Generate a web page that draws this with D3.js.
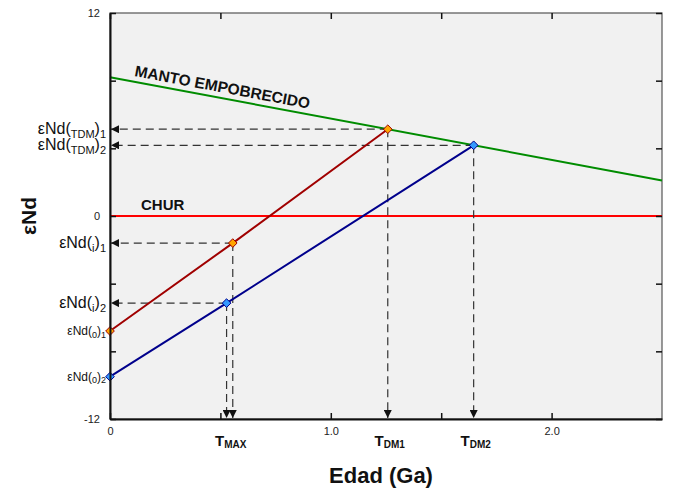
<!DOCTYPE html>
<html>
<head>
<meta charset="utf-8">
<script src="https://cdn.jsdelivr.net/npm/d3@7/dist/d3.min.js"></script>
<style>
  body { margin: 0; background: #fff; }
  svg { display: block; font-family: Arial, "Liberation Sans", sans-serif; }
</style>
</head>
<body>
<svg id="chart" width="673" height="491"></svg>
<script>
// Nd isotope evolution: depleted mantle, CHUR and two crustal samples
const yTicks = [-12, -8, -4, 0, 4, 8, 12];
const yTickLabels = ["-12", "", "", "0", "", "", "12"];
const xTicks = [0, 0.5, 1.0, 1.5, 2.0];
const xTickLabels = ["0", "", "1.0", "", "2.0"];

// depleted mantle (age Ga, εNd)
const mantleAge = [0, 2.5];
const mantleEps = [8.2, 2.1];
// CHUR reference
const churAge = [0, 2.5];
const churEps = [0, 0];
// sample 1: present day, crystallisation, model age
const s1Age = [0, 0.556, 1.258];
const s1Eps = [-6.8, -1.6, 5.13];
// sample 2
const s2Age = [0, 0.528, 1.647];
const s2Eps = [-9.5, -5.15, 4.18];

const svg = d3.select("#chart");
const m = { left: 110, right: 662, top: 13, bottom: 419 };
const x = d3.scaleLinear().domain([0, 2.5]).range([m.left, m.right]);
const y = d3.scaleLinear().domain([-12, 12]).range([m.bottom, m.top]);

const defs = svg.append("defs");
defs.append("marker").attr("id", "arrow")
  .attr("viewBox", "0 0 10 10").attr("refX", 10).attr("refY", 5)
  .attr("markerWidth", 9).attr("markerHeight", 8)
  .attr("markerUnits", "userSpaceOnUse")
  .attr("orient", "auto")
  .append("path").attr("d", "M0,0 L10,5 L0,10 z").attr("fill", "#111");

// plot background
svg.append("rect").attr("x", m.left).attr("y", m.top)
  .attr("width", m.right - m.left).attr("height", m.bottom - m.top)
  .attr("fill", "#f1f1f1").attr("stroke", "#555").attr("stroke-width", 1.2);

const zip = (a, b) => a.map((v, i) => [v, b[i]]);
const line = d3.line().x(d => x(d[0])).y(d => y(d[1]));

// reference curves
svg.append("path").datum(zip(churAge, churEps)).attr("d", line)
  .attr("fill", "none").attr("stroke", "#ff0000").attr("stroke-width", 2);
svg.append("path").datum(zip(mantleAge, mantleEps)).attr("d", line)
  .attr("fill", "none").attr("stroke", "#008c00").attr("stroke-width", 2);

// dashed guide arrows from each point to the axes
const guides = svg.append("g").attr("stroke", "#333").attr("stroke-width", 1.2)
  .attr("stroke-dasharray", "8,5").attr("fill", "none");
[[s1Age, s1Eps], [s2Age, s2Eps]].forEach(([ages, eps]) => {
  for (let i = 1; i < ages.length; i++) {
    guides.append("line")
      .attr("x1", x(ages[i])).attr("y1", y(eps[i]))
      .attr("x2", x(0) + 1).attr("y2", y(eps[i]))
      .attr("marker-end", "url(#arrow)");
    guides.append("line")
      .attr("x1", x(ages[i])).attr("y1", y(eps[i]))
      .attr("x2", x(ages[i])).attr("y2", y(-12) - 1)
      .attr("marker-end", "url(#arrow)");
  }
});

// sample evolution lines
svg.append("path").datum(zip(s1Age, s1Eps)).attr("d", line)
  .attr("fill", "none").attr("stroke", "#a00000").attr("stroke-width", 2);
svg.append("path").datum(zip(s2Age, s2Eps)).attr("d", line)
  .attr("fill", "none").attr("stroke", "#00008c").attr("stroke-width", 2);

const diamond = d3.symbol().type(d3.symbolDiamond2).size(48);
zip(s1Age, s1Eps).forEach(d => svg.append("path").attr("d", diamond)
  .attr("transform", `translate(${x(d[0])},${y(d[1])})`)
  .attr("fill", "#ffa500").attr("stroke", "#a00000").attr("stroke-width", 1));
zip(s2Age, s2Eps).forEach(d => svg.append("path").attr("d", diamond)
  .attr("transform", `translate(${x(d[0])},${y(d[1])})`)
  .attr("fill", "#3399ff").attr("stroke", "#00008c").attr("stroke-width", 1));

// axes with inward ticks
const yAxis = d3.axisLeft(y).tickValues(yTicks)
  .tickFormat((d, i) => yTickLabels[i]).tickSizeInner(-6).tickSizeOuter(0).tickPadding(8);
const gy = svg.append("g").attr("transform", `translate(${m.left},0)`).call(yAxis);
const yAxisR = d3.axisRight(y).tickValues(yTicks).tickFormat("")
  .tickSizeInner(-6).tickSizeOuter(0);
const gyr = svg.append("g").attr("transform", `translate(${m.right},0)`).call(yAxisR);
const xAxis = d3.axisBottom(x).tickValues(xTicks)
  .tickFormat((d, i) => xTickLabels[i]).tickSizeInner(-6).tickSizeOuter(0).tickPadding(8);
const gx = svg.append("g").attr("transform", `translate(0,${m.bottom})`).call(xAxis);
const xAxisT = d3.axisTop(x).tickValues(xTicks).tickFormat("")
  .tickSizeInner(-6).tickSizeOuter(0);
const gxt = svg.append("g").attr("transform", `translate(0,${m.top})`).call(xAxisT);
[gyr, gxt].forEach(g => { g.select(".domain").remove(); g.selectAll("line").attr("stroke", "#111").attr("stroke-width", 1.5); });
[gy, gx].forEach(g => {
  g.select(".domain").attr("stroke", "#111").attr("stroke-width", 2);
  g.selectAll("line").attr("stroke", "#111").attr("stroke-width", 1.5);
  g.selectAll("text").attr("font-size", 11).attr("fill", "#222")
    .attr("font-family", "Arial, 'Liberation Sans', sans-serif");
});
gy.selectAll("text").attr("dx", -2);

// labels for points on the y axis, with subscripts
function subLabel(parts, xr, yc, big, small) {
  const t = svg.append("text").attr("x", xr).attr("y", yc)
    .attr("text-anchor", "end").attr("dominant-baseline", "middle")
    .attr("fill", "#111");
  let shifted = false;
  parts.forEach(([s, sub]) => {
    const ts = t.append("tspan").text(s).attr("font-size", sub ? small : big);
    if (sub && !shifted) { ts.attr("dy", big * 0.3); shifted = true; }
    else if (!sub && shifted) { ts.attr("dy", -big * 0.3); shifted = false; }
  });
}
subLabel([["εNd(", 0], ["TDM", 1], [")", 0], ["1", 1]], 106, y(s1Eps[2]) + 1, 16, 11);
subLabel([["εNd(", 0], ["TDM", 1], [")", 0], ["2", 1]], 106, y(s2Eps[2]) + 1, 16, 11);
subLabel([["εNd(", 0], ["i", 1], [")", 0], ["1", 1]], 106, y(s1Eps[1]) + 1, 16, 11);
subLabel([["εNd(", 0], ["i", 1], [")", 0], ["2", 1]], 106, y(s2Eps[1]) + 1, 16, 11);
subLabel([["εNd(", 0], ["0", 1], [")", 0], ["1", 1]], 106, y(s1Eps[0]) + 1, 12, 9);
subLabel([["εNd(", 0], ["0", 1], [")", 0], ["2", 1]], 106, y(s2Eps[0]) + 1, 12, 9);

// age labels under the x axis
function ageLabel(xc, sub) {
  const t = svg.append("text").attr("x", xc).attr("y", 446)
    .attr("text-anchor", "middle").attr("font-weight", "bold").attr("fill", "#111");
  t.append("tspan").text("T").attr("font-size", 15);
  t.append("tspan").text(sub).attr("font-size", 10).attr("dy", 2);
}
ageLabel((x(s1Age[1]) + x(s2Age[1])) / 2 + 1, "MAX");
ageLabel(x(s1Age[2]) + 2, "DM1");
ageLabel(x(s2Age[2]) + 2, "DM2");

// curve names
const slope = Math.atan2(y(mantleEps[1]) - y(mantleEps[0]), x(mantleAge[1]) - x(mantleAge[0])) * 180 / Math.PI;
svg.append("text").attr("transform", `translate(134,76) rotate(${slope})`)
  .attr("font-size", 15.5).attr("font-weight", "bold").attr("fill", "#111")
  .text("MANTO EMPOBRECIDO");
svg.append("text").attr("x", 141).attr("y", 210)
  .attr("font-size", 15).attr("font-weight", "bold").attr("fill", "#111").text("CHUR");

// axis titles
svg.append("text").attr("transform", `translate(36,${y(0)}) rotate(-90)`)
  .attr("text-anchor", "middle").attr("font-size", 21).attr("font-weight", "bold")
  .attr("fill", "#111").text("εNd");
svg.append("text").attr("x", 381).attr("y", 483).attr("text-anchor", "middle")
  .attr("font-size", 22).attr("font-weight", "bold").attr("fill", "#111").text("Edad (Ga)");
</script>
</body>
</html>
